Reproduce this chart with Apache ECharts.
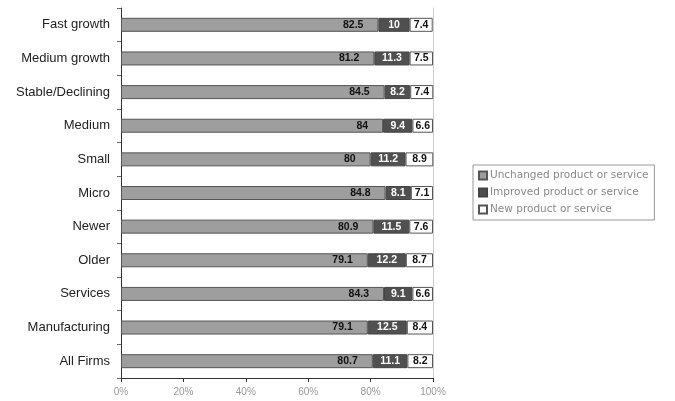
<!DOCTYPE html>
<html>
<head>
<meta charset="utf-8">
<script src="https://cdn.jsdelivr.net/npm/echarts@6/dist/echarts.min.js"></script>
<style>
  html, body { margin: 0; padding: 0; background: #fff; }
  #chart { width: 675px; height: 401px; }
</style>
</head>
<body>
<div id="chart"></div>
<script>
// categories bottom to top
const categories = ['All Firms', 'Manufacturing', 'Services', 'Older', 'Newer', 'Micro', 'Small', 'Medium', 'Stable/Declining', 'Medium growth', 'Fast growth']
const unchanged = [80.7, 79.1, 84.3, 79.1, 80.9, 84.8, 80, 84, 84.5, 81.2, 82.5]
const improved = [11.1, 12.5, 9.1, 12.2, 11.5, 8.1, 11.2, 9.4, 8.2, 11.3, 10]
const newer = [8.2, 8.4, 6.6, 8.7, 7.6, 7.1, 8.9, 6.6, 7.4, 7.5, 7.4]
const xTicks = ['0%', '20%', '40%', '60%', '80%', '100%']

const chart = echarts.init(document.getElementById('chart'))
const font = 'Liberation Sans, Arial, sans-serif'

const lbl = (color, position, distance) => ({
  show: true,
  position: position,
  color: color,
  fontWeight: 'bold',
  fontSize: 10.5,
  fontFamily: font,
  distance: distance
})

chart.setOption({
  animation: false,
  grid: { left: 121, right: 242, top: 8, bottom: 23 },
  legend: {
    orient: 'vertical',
    left: 473,
    top: 165,
    itemWidth: 8,
    itemHeight: 8,
    itemGap: 6,
    padding: [5, 6, 5, 5],
    borderColor: '#999',
    borderWidth: 1,
    icon: 'rect',
    textStyle: { fontSize: 10.5, color: '#888', fontFamily: 'DejaVu Sans, sans-serif', padding: [0, 0, 0, -2] },
    data: ['Unchanged product or service', 'Improved product or service', 'New product or service']
  },
  xAxis: {
    type: 'value',
    min: 0,
    max: 100,
    interval: 20,
    axisLine: { show: true, lineStyle: { color: '#333' } },
    axisTick: { show: true, length: 4, lineStyle: { color: '#333' } },
    splitLine: { show: false },
    axisLabel: {
      color: '#999',
      fontSize: 10,
      margin: 9,
      fontFamily: font,
      formatter: (v) => xTicks[v / 20]
    }
  },
  yAxis: [{
    type: 'category',
    data: categories,
    axisLine: { show: true, lineStyle: { color: '#333' } },
    axisTick: { show: true, length: 4, lineStyle: { color: '#666' } },
    axisLabel: {
      color: '#222',
      fontSize: 13,
      margin: 11,
      fontFamily: font
    }
  }, {
    type: 'category',
    position: 'right',
    data: categories,
    axisLine: { show: true, lineStyle: { color: '#ccc' } },
    axisTick: { show: false },
    axisLabel: { show: false }
  }],
  series: [
    {
      name: 'Unchanged product or service',
      type: 'bar',
      stack: 'all',
      barWidth: 14,
      data: unchanged,
      itemStyle: { color: '#9e9e9e', borderColor: '#555', borderWidth: 1 },
      label: lbl('#111', 'insideRight', 15)
    },
    {
      name: 'Improved product or service',
      type: 'bar',
      stack: 'all',
      data: improved,
      itemStyle: { color: '#505050', borderColor: '#444', borderWidth: 1 },
      label: lbl('#fff', 'inside', 0)
    },
    {
      name: 'New product or service',
      type: 'bar',
      stack: 'all',
      data: newer,
      itemStyle: { color: '#fff', borderColor: '#555', borderWidth: 1 },
      label: lbl('#111', 'inside', 0)
    }
  ]
})
</script>
</body>
</html>
